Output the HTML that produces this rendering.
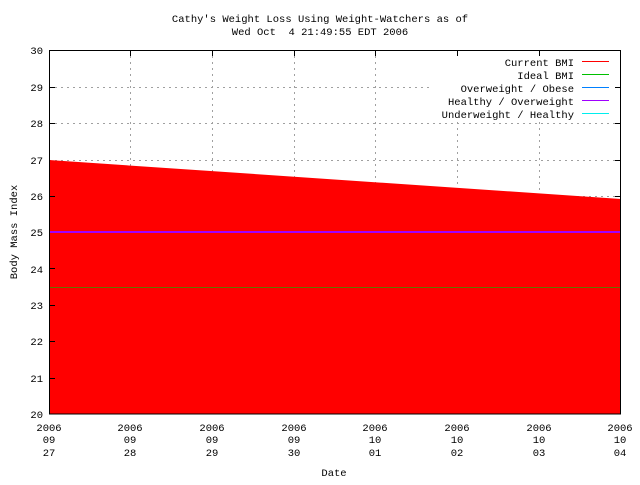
<!DOCTYPE html>
<html><head><style>body{margin:0;background:#fff}svg text{font-family:"Liberation Mono",monospace;font-size:10.5px}</style></head><body>
<svg width="640" height="480" xmlns="http://www.w3.org/2000/svg">
<text x="320" y="22" text-anchor="middle">Cathy's Weight Loss Using Weight-Watchers as of</text>
<text x="320" y="35" text-anchor="middle" xml:space="preserve">Wed Oct  4 21:49:55 EDT 2006</text>
<g stroke="#a0a0a0" stroke-dasharray="2,4" stroke-width="1">
<line x1="49" y1="50.5" x2="621" y2="50.5"/><line x1="49" y1="87.5" x2="621" y2="87.5"/><line x1="49" y1="123.5" x2="621" y2="123.5"/><line x1="49" y1="160.5" x2="621" y2="160.5"/><line x1="49" y1="196.5" x2="621" y2="196.5"/>
<line x1="130.5" y1="50" x2="130.5" y2="414"/><line x1="212.5" y1="50" x2="212.5" y2="414"/><line x1="294.5" y1="50" x2="294.5" y2="414"/><line x1="375.5" y1="50" x2="375.5" y2="414"/><line x1="457.5" y1="50" x2="457.5" y2="414"/><line x1="539.5" y1="50" x2="539.5" y2="414"/>
</g>
<rect x="430" y="52" width="190" height="70" fill="#fff"/>
<polygon points="49,160 621,199 621,414 49,414" fill="#ff0000"/>
<line x1="49" y1="232" x2="621" y2="232" stroke="#a000ff" stroke-width="2"/>
<line x1="49" y1="287.5" x2="621" y2="287.5" stroke="#00c000" stroke-width="1" opacity="0.6"/>
<rect x="49.5" y="50.5" width="571" height="363.5" fill="none" stroke="#000"/>
<g stroke="#000">
<line x1="49" y1="87.5" x2="55" y2="87.5"/><line x1="49" y1="123.5" x2="55" y2="123.5"/><line x1="49" y1="196.5" x2="55" y2="196.5"/><line x1="49" y1="268.5" x2="55" y2="268.5"/><line x1="49" y1="305.5" x2="55" y2="305.5"/><line x1="49" y1="341.5" x2="55" y2="341.5"/><line x1="49" y1="378.5" x2="55" y2="378.5"/>
<line x1="615" y1="87.5" x2="621" y2="87.5"/><line x1="615" y1="123.5" x2="621" y2="123.5"/><line x1="615" y1="160.5" x2="621" y2="160.5"/><line x1="615" y1="196.5" x2="621" y2="196.5"/>
<line x1="130.5" y1="50" x2="130.5" y2="56"/><line x1="212.5" y1="50" x2="212.5" y2="56"/><line x1="294.5" y1="50" x2="294.5" y2="56"/><line x1="375.5" y1="50" x2="375.5" y2="56"/><line x1="457.5" y1="50" x2="457.5" y2="56"/><line x1="539.5" y1="50" x2="539.5" y2="56"/>
</g>
<g text-anchor="end">
<text x="43" y="54">30</text><text x="43" y="91">29</text><text x="43" y="127">28</text><text x="43" y="164">27</text><text x="43" y="200">26</text><text x="43" y="236">25</text><text x="43" y="273">24</text><text x="43" y="309">23</text><text x="43" y="345">22</text><text x="43" y="382">21</text><text x="43" y="418">20</text>
</g>
<g text-anchor="middle">
<text x="49" y="431">2006</text><text x="49" y="443">09</text><text x="49" y="456">27</text>
<text x="130" y="431">2006</text><text x="130" y="443">09</text><text x="130" y="456">28</text>
<text x="212" y="431">2006</text><text x="212" y="443">09</text><text x="212" y="456">29</text>
<text x="294" y="431">2006</text><text x="294" y="443">09</text><text x="294" y="456">30</text>
<text x="375" y="431">2006</text><text x="375" y="443">10</text><text x="375" y="456">01</text>
<text x="457" y="431">2006</text><text x="457" y="443">10</text><text x="457" y="456">02</text>
<text x="539" y="431">2006</text><text x="539" y="443">10</text><text x="539" y="456">03</text>
<text x="620" y="431">2006</text><text x="620" y="443">10</text><text x="620" y="456">04</text>
<text x="334" y="476">Date</text>
</g>
<text transform="translate(17,232) rotate(-90)" text-anchor="middle">Body Mass Index</text>
<g text-anchor="end">
<text x="574" y="66">Current BMI</text><text x="574" y="79">Ideal BMI</text><text x="574" y="92">Overweight / Obese</text><text x="574" y="105">Healthy / Overweight</text><text x="574" y="118">Underweight / Healthy</text>
</g>
<line x1="582" y1="61.5" x2="609" y2="61.5" stroke="#ff0000"/>
<line x1="582" y1="74.5" x2="609" y2="74.5" stroke="#00c000"/>
<line x1="582" y1="87.5" x2="609" y2="87.5" stroke="#0080ff"/>
<line x1="582" y1="100.5" x2="609" y2="100.5" stroke="#a000ff"/>
<line x1="582" y1="113.5" x2="609" y2="113.5" stroke="#00eeee"/>
</svg>
</body></html>
